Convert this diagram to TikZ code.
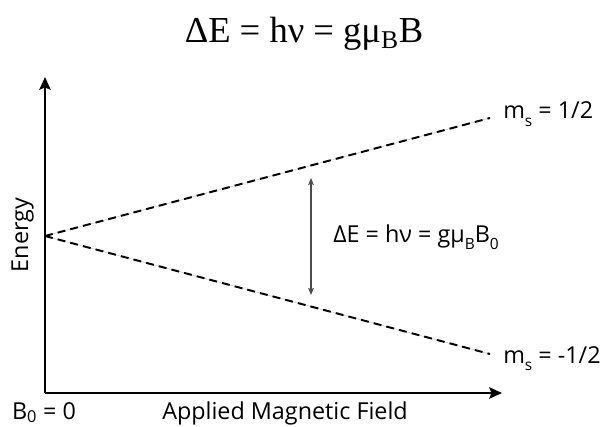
\documentclass[tikz,border=0pt]{standalone}
\usepackage{fontspec}
\setmainfont{Liberation Serif}
\setsansfont{Open Sans}
\usetikzlibrary{arrows.meta}

\newcommand{\lowsub}[1]{\raisebox{-0.3em}{\fontsize{11}{12}\selectfont #1}}

\begin{document}
\begin{tikzpicture}[
        x=0.025cm,
        y=-0.025cm,
        every node/.style={font=\sffamily\fontsize{16.6}{20}\selectfont, inner sep=0pt},
        eqtitle/.style={font=\rmfamily\fontsize{26}{30}\selectfont},
        axis/.style={
            draw,
            line width=1.6pt,
            -{Stealth[length=9pt,width=8pt,inset=1.5pt]}
        },
        level/.style={
            draw,
            line width=1.4pt,
            dash pattern=on 5.7pt off 3.6pt
        },
        levelshade/.style={draw=gray!35, line width=0.5pt},
        split/.style={
            draw=black!70,
            line width=0.8pt,
            {Stealth[length=5pt,width=4pt,inset=1pt]}-{Stealth[length=5pt,width=4pt,inset=1pt]}
        }
    ]
    \useasboundingbox (0,0) rectangle (600,427);

    % Title
    \node[eqtitle, anchor=base] (eq) at (304,43) {ΔE = hν = gμ\textsubscript{B}B};

    % Axes
    \coordinate (corner) at (45,393);
    \coordinate (ytop) at (45,77);
    \coordinate (xend) at (502,393);
    \draw[axis] (corner) -- (ytop);
    \draw[axis] (corner) -- (xend);

    \node[rotate=90, anchor=base] (energy) at (28,235) {Energy};
    \node[anchor=base] (bzero) at (44,419) {B\textsubscript{0} = 0};
    \node[anchor=base] (field) at (285,419) {Applied Magnetic Field};

    % Levels
    \coordinate (o) at (45,236);
    \coordinate (up) at (490,118);
    \coordinate (down) at (490,354);
    \draw[levelshade] (o) -- (up);
    \draw[levelshade] (o) -- (down);
    \draw[level] (o) -- (up);
    \draw[level] (o) -- (down);

    \node[anchor=base west] (msup) at (503,119) {m\lowsub{s} = 1/2};
    \node[anchor=base west] (msdown) at (503,363) {m\lowsub{s} = -1/2};

    % Splitting
    \coordinate (dtop) at (311,178);
    \coordinate (dbot) at (311,295);
    \draw[split] (dtop) -- (dbot);
    \node[anchor=base west] (gap) at (333,242) {ΔE = hν = gμ\lowsub{B}B\lowsub{0}};

\end{tikzpicture}
\end{document}
